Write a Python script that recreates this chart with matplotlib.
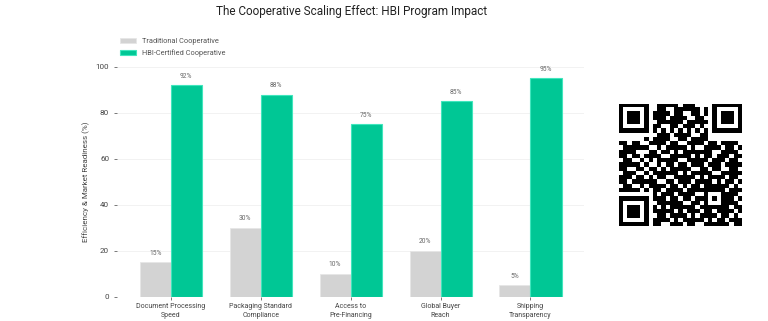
import numpy as np
import matplotlib
matplotlib.use('Agg')
from matplotlib import pyplot as plt

# Daten
kategorien = ['Document Processing\nSpeed', 'Packaging Standard\nCompliance',
              'Access to\nPre-Financing', 'Global Buyer\nReach', 'Shipping\nTransparency']
traditionell = [15, 30, 10, 20, 5]
hbi = [92, 88, 75, 85, 95]

# QR-Code (Datenmodule grob aus dem Bild, Funktionsmuster werden unten gesetzt)
qr_zeilen = [
    "00000000011111011100000000000",
    "00000000011001111110100000000",
    "00000000111101100110100000000",
    "00000000111011110011000000000",
    "00000000011111101111100000000",
    "00000000110011011101000000000",
    "00000000000000000000000000000",
    "00000000011101111001100000000",
    "00000000111100110111100000000",
    "11011011111011001111011011110",
    "01111110010111110100111101101",
    "11110001101101011111110011110",
    "11011011110011111010110111011",
    "01100111011111001111101110110",
    "11111010010110110111011101111",
    "11001111101011111001101100110",
    "01110010111111010111110011111",
    "11101101011001111101011110110",
    "11011111100110111011110101101",
    "01100101111011010110111111010",
    "11111010110111101111010110111",
    "00000000101110111100111011110",
    "00000000111011011011111101101",
    "00000000011111100110110011110",
    "00000000101011111101011101011",
    "00000000111110101110110111101",
    "00000000011011110101111011010",
    "00000000111101011111010110111",
    "00000000110011101100111111011",
]

n = 29
qr = np.array([[int(c) for c in z.ljust(n, '0')[:n]] for z in qr_zeilen])


def finder(m, r, c):
    m[max(r - 1, 0):r + 8, max(c - 1, 0):c + 8] = 0
    m[r:r + 7, c:c + 7] = 1
    m[r + 1:r + 6, c + 1:c + 6] = 0
    m[r + 2:r + 5, c + 2:c + 5] = 1


finder(qr, 0, 0)
finder(qr, 0, 22)
finder(qr, 22, 0)
for i in range(8, 21):
    qr[6, i] = 1 - i % 2
    qr[i, 6] = 1 - i % 2
qr[20:25, 20:25] = 1
qr[21:24, 21:24] = 0
qr[22, 22] = 1

plt.rcParams['font.family'] = ['Roboto', 'DejaVu Sans']

fig = plt.figure(figsize=(7.68, 3.21), dpi=100)
ax = fig.add_axes([0.152, 0.0748, 0.609, 0.7165])

x = np.arange(len(kategorien))
w = 0.345
b1 = ax.bar(x - w / 2, traditionell, w, color='#d3d3d3', edgecolor='#e6e6e6',
            linewidth=0.6, label='Traditional Cooperative')
b2 = ax.bar(x + w / 2, hbi, w, color='#00c795', edgecolor='#40e6bd',
            linewidth=0.8, label='HBI-Certified Cooperative')

for bars in (b1, b2):
    for rect in bars:
        h = rect.get_height()
        ax.text(rect.get_x() + rect.get_width() / 2, h + 2.5, f'{h:.0f}%',
                ha='center', va='bottom', fontsize=4.8, color='#666666')

ax.set_xlim(-0.6, 4.6)
ax.set_ylim(0, 100)
ax.set_yticks([0, 20, 40, 60, 80, 100])
ax.set_xticks(x)
ax.set_xticklabels(kategorien, fontsize=5, color='#444444', linespacing=1.45)
ax.tick_params(axis='y', labelsize=5.8, colors='#444444', length=2, width=0.5)
ax.tick_params(axis='x', length=2, width=0.5, colors='#444444', pad=2.5)
ax.set_ylabel('Efficiency & Market Readiness (%)', fontsize=5.8, color='#444444')
ax.grid(axis='y', color='#f0f0f0', linewidth=0.6)
ax.set_axisbelow(True)
for s in ax.spines.values():
    s.set_visible(False)

ax.legend(loc='lower left', bbox_to_anchor=(0.0, 1.03), frameon=False,
          fontsize=5.3, handlelength=2.2, handleheight=0.6, labelcolor='#555555',
          borderaxespad=0, labelspacing=0.55)

fig.text(0.458, 0.965, 'The Cooperative Scaling Effect: HBI Program Impact',
         ha='center', va='center', fontsize=8.5, color='#222222')

# QR-Code
qax = fig.add_axes([0.806, 0.296, 0.159, 0.381])
qax.imshow(qr, cmap='gray_r', interpolation='nearest', aspect='auto')
qax.axis('off')

fig.savefig('out.png', dpi=100)
